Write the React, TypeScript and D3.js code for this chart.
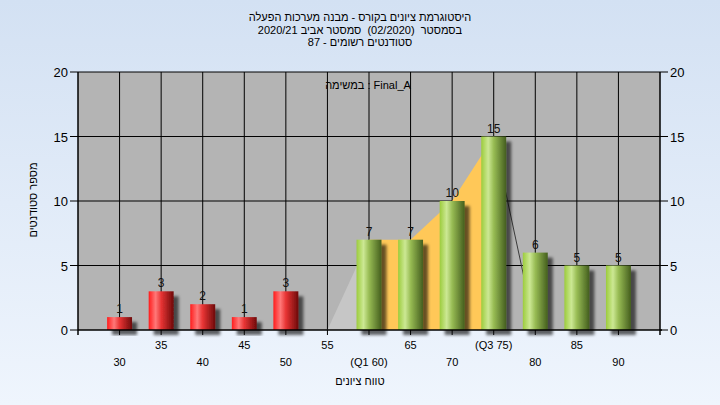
import React from "react";
import * as d3 from "d3";

const categories = [30, 35, 40, 45, 50, 55, 60, 65, 70, 75, 80, 85, 90];
const categoryLabels = ["30", "35", "40", "45", "50", "55", "(Q1 60)", "65", "70", "(Q3 75)", "80", "85", "90"];
const counts = [1, 3, 2, 1, 3, 0, 7, 7, 10, 15, 6, 5, 5];
const failThreshold = 55;
const yTicks = [0, 5, 10, 15, 20];
const greyArea = [[55, 0], [60, 7], [60, 0]];
const quartileArea = [[60, 0], [60, 7], [65, 7], [70, 10], [75, 15], [75, 0]];
const tailLine = [[75, 15], [80, 0]];
const titleLines = [
  "היסטוגרמת ציונים בקורס - מבנה מערכות הפעלה",
  "בסמסטר  (02/2020)  סמסטר אביב 2020/21",
  "סטודנטים רשומים - 87",
];
const annotation = "Final_A : במשימה";
const yTitle = "מספר סטודנטים";
const xTitle = "טווח ציונים";

const W = 720, H = 405;
const L = 78, R = 660, T = 72, B = 330;
const FONT = "'Liberation Sans', Arial, sans-serif";

export default function App() {
  const x = d3.scaleLinear().domain([25, 95]).range([L, R]);
  const y = d3.scaleLinear().domain([0, 20]).range([B, T]);
  const step = x(35) - x(30);
  const bw = step * 0.6;
  const line = d3.line<number[]>().x((d) => x(d[0])).y((d) => y(d[1]));
  const poly = (pts: number[][]) => line(pts) + "Z";

  return (
    <svg width={W} height={H} style={{ position: "absolute", left: 0, top: 0, fontFamily: FONT }}>
      <defs>
        <linearGradient id="bg" x1="0" y1="0" x2="0" y2="1">
          <stop offset="0" stopColor="#d3e1f3" />
          <stop offset="1" stopColor="#eff5fd" />
        </linearGradient>
        <linearGradient id="red" x1="0" y1="0" x2="1" y2="0">
          <stop offset="0" stopColor="#ff1c1c" />
          <stop offset="0.28" stopColor="#ff7878" />
          <stop offset="0.5" stopColor="#e83434" />
          <stop offset="1" stopColor="#6e0a0a" />
        </linearGradient>
        <linearGradient id="green" x1="0" y1="0" x2="1" y2="0">
          <stop offset="0" stopColor="#9ccc3c" />
          <stop offset="0.28" stopColor="#cce894" />
          <stop offset="0.5" stopColor="#98bc54" />
          <stop offset="1" stopColor="#445e1e" />
        </linearGradient>
        <filter id="sh" x="-20%" y="-20%" width="160%" height="160%">
          <feDropShadow dx="5" dy="5" stdDeviation="1.6" floodColor="#000" floodOpacity="0.6" />
        </filter>
      </defs>
      <rect x={0} y={0} width={W} height={H} fill="url(#bg)" />

      {titleLines.map((t, i) => (
        <text key={i} x={360} y={21 + i * 12.5} fontSize={11} textAnchor="middle" direction="rtl" fill="#000" style={{ whiteSpace: "pre" }}>
          {t}
        </text>
      ))}

      <rect x={L} y={T} width={R - L} height={B - T} fill="#b4b4b4" />

      {yTicks.slice(1).map((v) => (
        <line key={"hg" + v} x1={L} x2={R} y1={y(v)} y2={y(v)} stroke="#000" strokeWidth={1} />
      ))}
      {categories.map((c) => (
        <line key={"vg" + c} x1={x(c)} x2={x(c)} y1={T} y2={B} stroke="#000" strokeWidth={1} />
      ))}

      <path d={poly(greyArea)} fill="#c6c6c6" />
      <path d={poly(quartileArea)} fill="#ffc858" />
      <path d={line(tailLine) || ""} fill="none" stroke="#3a3a3a" strokeWidth={1} />

      {categories.map((c, i) =>
        counts[i] > 0 ? (
          <rect
            key={"b" + c}
            x={x(c) - bw / 2}
            y={y(counts[i])}
            width={bw}
            height={y(0) - y(counts[i])}
            fill={c < failThreshold ? "url(#red)" : "url(#green)"}
            filter="url(#sh)"
          />
        ) : null
      )}

      {categories.map((c, i) =>
        counts[i] > 0 ? (
          <text key={"v" + c} x={x(c)} y={y(counts[i]) - 4} fontSize={12} textAnchor="middle" fill="#111">
            {counts[i]}
          </text>
        ) : null
      )}

      <text x={368} y={89} fontSize={11} textAnchor="middle" direction="rtl" fill="#000" style={{ whiteSpace: "pre" }}>
        {annotation}
      </text>

      {/* axes */}
      <line x1={L} x2={R + 2} y1={B} y2={B} stroke="#000" strokeWidth={1.5} />
      <line x1={L} x2={L} y1={T} y2={B + 5} stroke="#000" strokeWidth={1.5} />
      <line x1={R} x2={R} y1={T} y2={B + 5} stroke="#000" strokeWidth={1.5} />
      {yTicks.map((v) => (
        <g key={"yt" + v}>
          <line x1={L - 8} x2={L} y1={y(v)} y2={y(v)} stroke="#000" strokeWidth={1} />
          <text x={L - 10} y={y(v) + 5} fontSize={13} textAnchor="end" fill="#000">{v}</text>
          <line x1={R} x2={R + 8} y1={y(v)} y2={y(v)} stroke="#000" strokeWidth={1} />
          <text x={R + 10} y={y(v) + 5} fontSize={13} textAnchor="start" fill="#000">{v}</text>
        </g>
      ))}
      {categories.map((c, i) => (
        <g key={"xt" + c}>
          <line x1={x(c)} x2={x(c)} y1={B} y2={B + 5} stroke="#000" strokeWidth={1} />
          <text x={x(c)} y={i % 2 === 1 ? 349 : 366} fontSize={11} textAnchor="middle" fill="#000">
            {categoryLabels[i]}
          </text>
        </g>
      ))}

      <text x={360} y={385} fontSize={11} textAnchor="middle" direction="rtl" fill="#000">{xTitle}</text>
      <text
        transform="translate(37,200) rotate(-90)"
        fontSize={11}
        textAnchor="middle"
        direction="rtl"
        fill="#000"
      >
        {yTitle}
      </text>
    </svg>
  );
}
